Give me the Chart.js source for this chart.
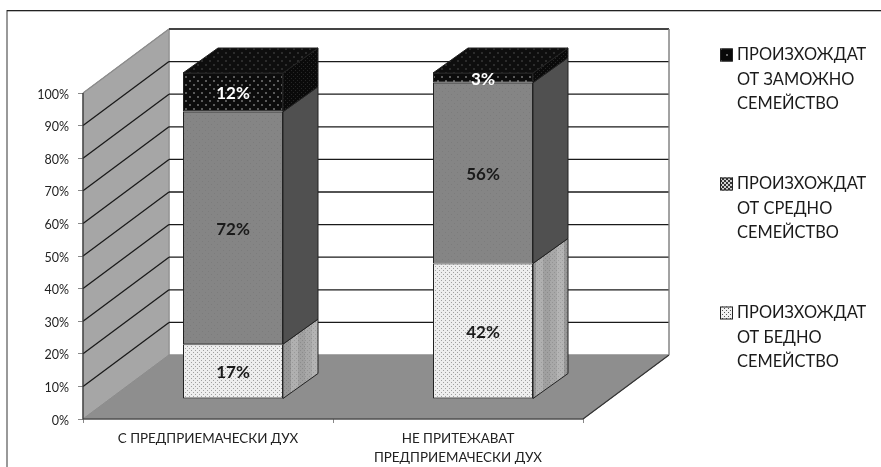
<!DOCTYPE html>
<html>
<head>
<meta charset="utf-8">
<style>
  html, body { margin: 0; padding: 0; background: #fff; }
  #wrap { width: 881px; height: 467px; }
</style>
<script src="https://cdn.jsdelivr.net/npm/chart.js@4"></script>
</head>
<body>
<div id="wrap"><canvas id="chart" width="881" height="467"></canvas></div>
<script>
// Data
const categories = [["С ПРЕДПРИЕМАЧЕСКИ ДУХ"], ["НЕ ПРИТЕЖАВАТ", "ПРЕДПРИЕМАЧЕСКИ ДУХ"]];
const bedno = [17, 42];
const sredno = [72, 56];
const zamozhno = [12, 3];
const legendBedno = ["ПРОИЗХОЖДАТ", "ОТ БЕДНО", "СЕМЕЙСТВО"];
const legendSredno = ["ПРОИЗХОЖДАТ", "ОТ СРЕДНО", "СЕМЕЙСТВО"];
const legendZamozhno = ["ПРОИЗХОЖДАТ", "ОТ ЗАМОЖНО", "СЕМЕЙСТВО"];
const yTicks = [0, 10, 20, 30, 40, 50, 60, 70, 80, 90, 100];

// 3D look: wall depth and bar depth in px
const WALL_X = 86, WALL_Y = -64;
const BAR_SHIFT_X = 25, BAR_SHIFT_Y = -20;
const BAR_X = 35, BAR_Y = -25;

// Small tiled dot fill
function dots(bg, dot, size, r) {
  const c = document.createElement("canvas");
  c.width = size; c.height = size;
  const g = c.getContext("2d");
  g.fillStyle = bg;
  g.fillRect(0, 0, size, size);
  g.fillStyle = dot;
  g.fillRect(0, 0, r, r);
  g.fillRect(size / 2, size / 2, r, r);
  return g.createPattern(c, "repeat");
}
// Vertical bands, used on the side of the light segment
function bands(colors, w) {
  const c = document.createElement("canvas");
  c.width = colors.length * w; c.height = 4;
  const g = c.getContext("2d");
  colors.forEach((col, i) => {
    g.fillStyle = col;
    g.fillRect(i * w, 0, w, 4);
  });
  g.fillStyle = "rgba(0,0,0,0.12)";
  for (let x = 0; x < c.width; x += 2) g.fillRect(x, x % 4 ? 2 : 0, 1, 1);
  return g.createPattern(c, "repeat");
}
const ctx = document.getElementById("chart").getContext("2d");
const fillLight = dots("#eeeeee", "#a0a0a0", 4, 1);
const fillMid = dots("#858585", "#7c7c7c", 6, 1);
const fillBlack = dots("#0c0c0c", "#5a5a5a", 8, 2);
const sideLight = bands(["#a8a8a8", "#b4b4b4", "#989898", "#b0b0b0", "#a0a0a0"], 7);
const sideBlack = dots("#0a0a0a", "#262626", 4, 1);
const topBlack = dots("#0e0e0e", "#2c2c2c", 8, 2);

// percent stacked, as the labels add up to 101
function share(arr, i) {
  return arr[i] / (bedno[i] + sredno[i] + zamozhno[i]) * 100;
}

function poly(c, pts, fill, stroke) {
  c.beginPath();
  pts.forEach((p, i) => i ? c.lineTo(p[0], p[1]) : c.moveTo(p[0], p[1]));
  c.closePath();
  if (fill) { c.fillStyle = fill; c.fill(); }
  if (stroke) { c.strokeStyle = stroke; c.lineWidth = 1; c.stroke(); }
}

// walls, floor and the grid that runs round them
const walls = {
  id: "walls",
  beforeDatasetsDraw(chart) {
    const c = chart.ctx, a = chart.chartArea, y = chart.scales.y;
    c.save();
    // frame of the picture
    c.fillStyle = "#999";
    c.fillRect(6, 10, 2, 457);
    c.fillStyle = "#222";
    c.fillRect(7, 10, 874, 1.3);
    // back wall
    poly(c, [[a.left + WALL_X, a.top + WALL_Y], [a.right + WALL_X, a.top + WALL_Y],
             [a.right + WALL_X, a.bottom + WALL_Y], [a.left + WALL_X, a.bottom + WALL_Y]], "#ffffff", "#8c8c8c");
    // left wall
    poly(c, [[a.left, a.top], [a.left + WALL_X, a.top + WALL_Y],
             [a.left + WALL_X, a.bottom + WALL_Y], [a.left, a.bottom]], "#a6a6a6", "#8c8c8c");
    // floor
    poly(c, [[a.left, a.bottom], [a.left + WALL_X, a.bottom + WALL_Y],
             [a.right + WALL_X, a.bottom + WALL_Y], [a.right, a.bottom]], "#8e8e8e", "#8c8c8c");
    // grid
    yTicks.forEach(t => {
      if (t === 0) return;
      const py = y.getPixelForValue(t);
      c.strokeStyle = t === 100 ? "#8c8c8c" : "#1a1a1a";
      c.lineWidth = 1.3;
      c.beginPath();
      c.moveTo(a.left, py);
      c.lineTo(a.left + WALL_X, py + WALL_Y);
      c.stroke();
      c.strokeStyle = t === 100 ? "#444" : "#1a1a1a";
      c.lineWidth = t === 100 ? 2 : 1.3;
      c.beginPath();
      c.moveTo(a.left + WALL_X, py + WALL_Y);
      c.lineTo(a.right + WALL_X, py + WALL_Y);
      c.stroke();
    });
    // axis lines at the front
    c.strokeStyle = "#333";
    c.lineWidth = 1.2;
    c.beginPath();
    c.moveTo(a.left, a.top); c.lineTo(a.left, a.bottom); c.lineTo(a.right, a.bottom);
    c.moveTo(a.right, a.bottom); c.lineTo(a.right + WALL_X, a.bottom + WALL_Y);
    c.stroke();
    c.beginPath();
    c.moveTo(a.right + WALL_X, a.top + WALL_Y); c.lineTo(a.right + WALL_X, a.bottom + WALL_Y);
    c.strokeStyle = "#8c8c8c";
    c.stroke();
    c.restore();
    // bars stand in the middle of the floor
    c.save();
    c.translate(BAR_SHIFT_X, BAR_SHIFT_Y);
    // sides and tops go under the fronts
    const sides = [sideLight, "#505050", sideBlack];
    chart.data.datasets.forEach((ds, d) => {
      chart.getDatasetMeta(d).data.forEach(bar => {
        const w = bar.width / 2;
        const l = bar.x - w, r = bar.x + w;
        poly(c, [[r, bar.y], [r + BAR_X, bar.y + BAR_Y], [r + BAR_X, bar.base + BAR_Y], [r, bar.base]], sides[d], "#222");
        if (d === chart.data.datasets.length - 1) {
          poly(c, [[l, bar.y], [l + BAR_X, bar.y + BAR_Y], [r + BAR_X, bar.y + BAR_Y], [r, bar.y]], topBlack, "#222");
        }
      });
    });
  },
  afterDatasetsDraw(chart) {
    const c = chart.ctx;
    c.restore();
    // value labels
    c.save();
    c.textAlign = "center";
    c.textBaseline = "middle";
    c.font = "bold 17px Lato";
    const values = [bedno, sredno, zamozhno];
    chart.data.datasets.forEach((ds, d) => {
      chart.getDatasetMeta(d).data.forEach((bar, i) => {
        c.fillStyle = d === 2 ? "#ffffff" : "#1a1a1a";
        c.fillText(values[d][i] + "%", bar.x + BAR_SHIFT_X, (bar.y + bar.base) / 2 + BAR_SHIFT_Y + 1.5);
      });
    });
    c.restore();
    // legend, top entry is the last series
    c.save();
    c.textBaseline = "middle";
    c.font = "16.4px Lato";
    const leg = [
      { lines: legendZamozhno, y: 55, fill: dots("#080808", "#666", 12, 2) },
      { lines: legendSredno, y: 184, fill: dots("#d0d0d0", "#333", 4, 2) },
      { lines: legendBedno, y: 313, fill: dots("#f2f2f2", "#555", 4, 1) }
    ];
    leg.forEach(e => {
      c.fillStyle = e.fill;
      c.fillRect(720, e.y - 6.5, 13, 13);
      c.strokeStyle = "#222";
      c.strokeRect(720.5, e.y - 6, 12, 12);
      c.fillStyle = "#1a1a1a";
      e.lines.forEach((t, i) => c.fillText(t, 737, e.y + i * 24.3));
    });
    c.restore();
  }
};

new Chart(ctx, {
  type: "bar",
  data: {
    labels: categories,
    datasets: [
      { label: legendBedno.join(" "), data: bedno.map((v, i) => share(bedno, i)), backgroundColor: fillLight },
      { label: legendSredno.join(" "), data: sredno.map((v, i) => share(sredno, i)), backgroundColor: fillMid },
      { label: legendZamozhno.join(" "), data: zamozhno.map((v, i) => share(zamozhno, i)), backgroundColor: fillBlack }
    ].map(d => Object.assign(d, { borderColor: "#222", borderWidth: 1, borderSkipped: false, barPercentage: 0.4, categoryPercentage: 1 }))
  },
  options: {
    responsive: false,
    animation: false,
    plugins: { legend: { display: false }, tooltip: { enabled: false } },
    scales: {
      x: {
        stacked: true,
        grid: { drawOnChartArea: false, tickLength: 4, color: "#888" },
        border: { display: false },
        afterFit(s) { s.height = 467 - 419; },
        ticks: { color: "#222", font: { family: "Lato", size: 13.4, lineHeight: 1.42 }, maxRotation: 0, padding: 6 }
      },
      y: {
        stacked: true,
        min: 0,
        max: 100,
        afterFit(s) { s.width = 83; },
        afterBuildTicks(s) { s.ticks = yTicks.map(v => ({ value: v })); },
        grid: { drawOnChartArea: false, tickLength: 5, color: "#888" },
        border: { display: false },
        ticks: { color: "#222", font: { family: "Lato", size: 12.5 }, padding: 9, labelOffset: 1.5, callback: v => v + "%" }
      }
    }
  },
  plugins: [walls, {
    // pin the plot box to the spot it has in the picture
    id: "box",
    beforeLayout(chart) { chart.options.layout.padding = { top: 93, right: 298, bottom: 0, left: 0 }; }
  }]
});
</script>
</body>
</html>
